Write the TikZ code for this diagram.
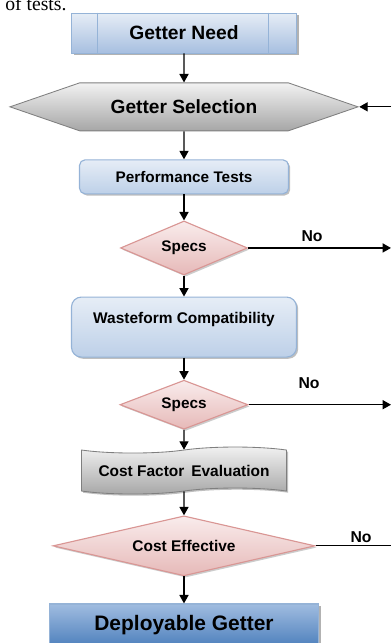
\documentclass[tikz,border=0pt]{standalone}
\usepackage{fontspec}
\setmainfont{Liberation Sans}
\newfontfamily\pageserif{Liberation Serif}
\usetikzlibrary{shapes.geometric, shapes.symbols, arrows.meta, positioning, shadows}
\definecolor{blueA}{HTML}{4F81BD}
\definecolor{blueB}{HTML}{95B3D7}
\definecolor{blueC}{HTML}{BDD0E8}
\definecolor{blueD}{HTML}{E6EDF6}
\definecolor{blueE}{HTML}{A0BCE0}
\definecolor{blueF}{HTML}{A7BFE0}
\definecolor{pinkA}{HTML}{D99694}
\definecolor{pinkB}{HTML}{E6B9B8}
\definecolor{pinkC}{HTML}{F9ECEC}
\definecolor{grayA}{HTML}{7F7F7F}
\definecolor{grayB}{HTML}{A6A6A6}
\definecolor{grayC}{HTML}{F2F2F2}

\begin{document}
\begin{tikzpicture}[
  predbox/.style={
    draw=blueB, top color=blueD, bottom color=blueF,
    font=\bfseries\fontsize{13.7}{16}\selectfont,
    minimum width=5.625cm, minimum height=1.0cm,
    line width=0.6pt,
    drop shadow={shadow xshift=1.5pt, shadow yshift=-1.5pt, fill=grayA, opacity=0.6}
  },
  selbox/.style={
    signal, signal to=west and east, signal pointer angle=38,
    draw=grayA, top color=grayC, bottom color=grayB,
    font=\bfseries\fontsize{13.6}{16}\selectfont,
    minimum width=8.7cm, minimum height=1.2cm,
    line width=0.6pt
  },
  procbox/.style={
    draw=blueB, top color=blueD, bottom color=blueC,
    font=\bfseries\fontsize{#1}{13}\selectfont, align=center,
    rounded corners=4pt, line width=0.8pt,
    drop shadow={shadow xshift=1.2pt, shadow yshift=-1.2pt, fill=grayA, opacity=0.5}
  },
  decbox/.style={
    diamond, aspect=2.4, inner sep=0pt,
    draw=pinkA, top color=pinkC, bottom color=pinkB,
    font=\bfseries\fontsize{10.9}{13}\selectfont,
    line width=0.8pt,
    drop shadow={shadow xshift=1.2pt, shadow yshift=-1.2pt, fill=grayA, opacity=0.4}
  },
  tapebox/.style={
    tape, tape bend top=in and out, tape bend bottom=in and out,
    tape bend height=0.15cm,
    draw=grayA, top color=grayC, bottom color=grayB,
    font=\bfseries\fontsize{11}{13}\selectfont,
    minimum width=5.125cm, minimum height=1.175cm,
    line width=0.6pt,
    drop shadow={shadow xshift=1.2pt, shadow yshift=-1.2pt, fill=grayA, opacity=0.5}
  },
  outbox/.style={
    draw=blueB, top color=blueE, bottom color=blueA,
    font=\bfseries\fontsize{14.9}{17}\selectfont,
    minimum width=6.725cm, minimum height=1.05cm,
    line width=0.8pt,
    drop shadow={shadow xshift=1.5pt, shadow yshift=-1.5pt, fill=grayA, opacity=0.6}
  },
  lbl/.style={font=\bfseries\fontsize{11.2}{13}\selectfont},
  arr/.style={-{Triangle[length=6pt, width=6.5pt]}, line width=0.9pt},
  node distance=0.6cm
]
\useasboundingbox (0,0) rectangle (9.775,-16.075);
\coordinate (rgt) at (9.775,0);

%% leftover of the page text above
\node[anchor=base west, inner sep=0pt, font=\pageserif\fontsize{14}{16}\selectfont]
  (cut) at (0.125,-0.25) {of tests.};

%% ═══ NEED ═══
\node[predbox] (need) at (4.6,-0.825) {Getter Need};
\draw[blueB, line width=0.6pt] ([xshift=0.65cm]need.north west) -- ([xshift=0.65cm]need.south west);
\draw[blueB, line width=0.6pt] ([xshift=-0.725cm]need.north east) -- ([xshift=-0.725cm]need.south east);

%% ═══ SELECTION ═══
\node[selbox, below=0.725cm of need] (sel) {Getter Selection};
\draw[arr] (need) -- (sel);
\draw[arr] (sel.east -| rgt) -- (sel.east);

%% ═══ PERFORMANCE ═══
\node[procbox=10.9, minimum width=5.225cm, minimum height=0.85cm,
  below=0.7cm of sel] (perf) {Performance Tests};
\draw[arr] (sel) -- (perf);

\node[decbox, minimum width=3.175cm, minimum height=1.35cm,
  below=0.65cm of perf] (spec1) {Specs};
\draw[arr] (perf) -- (spec1);
\draw[arr] (spec1.east) -- (spec1.east -| rgt);
\node[lbl] (no1) at (7.8,-5.9) {No};

%% ═══ WASTEFORM ═══
\node[procbox=11, minimum width=5.625cm, minimum height=1.5cm,
  rounded corners=7pt, below=0.525cm of spec1] (waste)
  {Wasteform Compatibility\\~};
\draw[arr] (spec1) -- (waste);

\node[decbox, minimum width=3.2cm, minimum height=1.225cm,
  below=0.55cm of waste] (spec2) {Specs};
\draw[arr] (waste) -- (spec2);
\draw[arr] (spec2.east) -- (spec2.east -| rgt);
\node[lbl] (no2) at (7.725,-9.575) {No};

%% ═══ COST ═══
\node[tapebox, below=0.5cm of spec2] (cost) {Cost Factor\, Evaluation};
\draw[arr] (spec2) -- (cost);

\node[decbox, aspect=4.4, font=\bfseries\fontsize{11}{13}\selectfont,
  minimum width=6.55cm, minimum height=1.5cm,
  below=0.6cm of cost] (eff) {Cost Effective};
\draw[arr] (cost) -- (eff);
\draw[line width=0.9pt] (eff.east) -- (eff.east -| rgt);
\node[lbl] (no3) at (9.025,-13.425) {No};

%% ═══ OUTPUT ═══
\node[outbox, below=0.675cm of eff] (out) {Deployable Getter};
\draw[arr] (eff) -- (out);

\end{tikzpicture}
\end{document}
